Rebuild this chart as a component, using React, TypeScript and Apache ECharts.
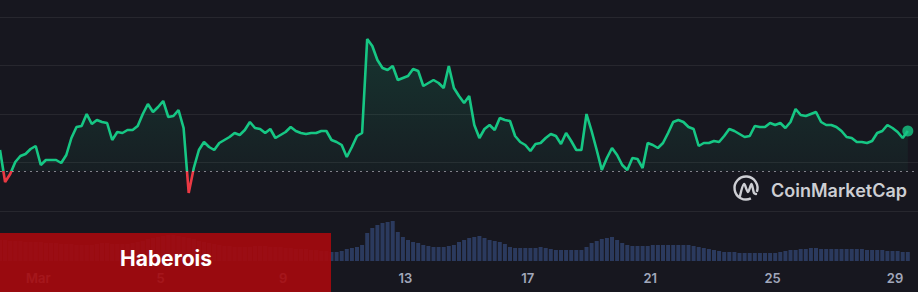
import React, { useEffect, useRef } from "react";
import * as echarts from "echarts";

// Time axis in hours from Mar 1 00:00
const START_HOUR = -30;
const STEP_HOURS = 4;
const AXIS_MIN_HOUR = -30;
const AXIS_MAX_HOUR = 690;
const BASELINE = 40;

const tickHours = [0, 96, 192, 288, 384, 480, 576, 672];
const tickLabels = ["Mar", "5", "9", "13", "17", "21", "25", "29"];

const priceValues = [
  61, 29, 37, 49, 55, 57, 62, 65, 46, 51,
  51, 51, 48, 56, 73, 84, 85, 97, 87, 91,
  89, 88, 71, 79, 78, 81, 81, 85, 97, 107,
  99, 104, 110, 94, 95, 101, 83, 18, 43, 61,
  69, 64, 61, 68, 71, 74, 78, 76, 81, 89,
  83, 82, 78, 82, 73, 76, 79, 84, 80, 78,
  77, 78, 78, 80, 80, 71, 69, 66, 54, 64,
  75, 78, 172, 165, 151, 143, 141, 145, 131, 133,
  135, 142, 140, 125, 128, 131, 128, 123, 145, 123,
  115, 108, 115, 86, 73, 82, 86, 81, 93, 91,
  90, 75, 69, 66, 60, 67, 68, 73, 77, 75,
  67, 78, 70, 61, 61, 97, 80, 61, 41, 53,
  63, 56, 46, 41, 53, 52, 43, 68, 66, 63,
  68, 78, 89, 91, 89, 84, 82, 65, 68, 68,
  70, 69, 75, 82, 80, 77, 74, 75, 85, 84,
  84, 88, 86, 88, 83, 89, 102, 96, 95, 97,
  99, 89, 86, 86, 84, 80, 74, 73, 69, 69,
  68, 70, 78, 80, 86, 83, 79, 73, 80,
];

const volumeValues = [
  21, 21, 20, 20, 20, 19, 19, 19,
  19, 18, 18, 18, 17, 17, 17,
  16, 16, 16, 16, 17, 18,
  18, 17, 17, 17, 17, 18, 19,
  20, 22,
  23, 24, 25, 26, 26, 25, 24, 23, 22, 20,
  19, 18, 17, 16, 15, 15,
  14, 14, 14, 14, 15, 15, 15, 14, 14, 14, 13, 13, 12, 12, 12, 11, 11, 10, 10,
  9, 9, 10, 12, 13, 14, 16, 28, 33, 36,
  38, 39, 40, 29, 24, 21, 19, 18, 16, 15,
  14, 14, 14, 15, 16, 19, 21, 23, 24, 25,
  23, 21, 20, 19, 17, 14, 13, 13, 13, 13,
  13, 14, 13, 12, 11, 11, 11, 11, 11, 11,
  14, 18, 20, 22, 23, 24, 21, 18, 16, 15,
  15, 15, 15, 16, 16, 16, 16, 16, 16, 16,
  16, 15, 14, 13, 12, 11, 10, 9, 9, 9,
  8, 8, 8, 8, 8, 8, 8, 8, 9, 10,
  11, 11, 12, 12, 13, 13, 12, 12, 12, 12,
  12, 12, 12, 12, 12, 11, 11, 11, 11, 10,
  10, 10, 9, 9,
];

const BG = "#17171f";
const GREEN = "#16c784";
const RED = "#ea3943";
const W = 918;
const H = 292;

export default function App() {
  const ref = useRef<HTMLDivElement>(null);

  useEffect(() => {
    if (!ref.current) return;
    const chart = echarts.init(ref.current, undefined, { renderer: "svg" });

    const priceData = priceValues.map((v, i) => [START_HOUR + i * STEP_HOURS, v]);
    const volumeData = volumeValues.map((v, i) => [START_HOUR + i * STEP_HOURS, v]);
    const last = priceData[priceData.length - 1];

    const cx = 746;
    const cy = 188;

    chart.setOption({
      animation: false,
      backgroundColor: BG,
      grid: [
        { left: 0, right: 0, top: 17, bottom: 81 },
        { left: 0, right: 0, top: 211, bottom: 31 },
      ],
      xAxis: [
        { type: "value", gridIndex: 0, min: AXIS_MIN_HOUR, max: AXIS_MAX_HOUR, show: false },
        {
          type: "value",
          gridIndex: 1,
          min: AXIS_MIN_HOUR,
          max: AXIS_MAX_HOUR,
          axisLine: { show: false },
          axisTick: { show: false },
          splitLine: { show: false },
          axisLabel: {
            customValues: tickHours,
            formatter: (val: number) => {
              const k = tickHours.indexOf(Math.round(val));
              return k >= 0 ? tickLabels[k] : "";
            },
            color: "#a1a7bb",
            fontSize: 13,
            fontWeight: 600,
            fontFamily: "Inter",
            margin: 10,
          },
        },
      ],
      yAxis: [
        {
          type: "value",
          gridIndex: 0,
          min: 0,
          max: 194,
          interval: 48.5,
          axisLabel: { show: false },
          axisLine: { show: false },
          axisTick: { show: false },
          splitLine: { show: true, lineStyle: { color: "rgba(255,255,255,0.07)", width: 1 } },
        },
        { type: "value", gridIndex: 1, min: 0, max: 50, show: false, splitLine: { show: false } },
      ],
      series: [
        {
          id: "price",
          type: "line",
          xAxisIndex: 0,
          yAxisIndex: 0,
          data: priceData,
          showSymbol: false,
          symbol: "none",
          lineStyle: { width: 2.6, color: GREEN },
          areaStyle: {
            origin: BASELINE,
            color: new echarts.graphic.LinearGradient(0, 0, 0, 1, [
              { offset: 0, color: "rgba(22,199,132,0.24)" },
              { offset: 1, color: "rgba(22,199,132,0.03)" },
            ]),
          },
          markLine: {
            silent: true,
            symbol: "none",
            label: { show: false },
            lineStyle: { type: [2, 4], color: "rgba(200,200,210,0.6)", width: 1 },
            data: [{ yAxis: BASELINE }],
          },
          z: 3,
        },
        {
          type: "scatter",
          xAxisIndex: 0,
          yAxisIndex: 0,
          data: [last],
          symbolSize: 11,
          itemStyle: { color: GREEN },
          z: 4,
        },
        {
          type: "bar",
          xAxisIndex: 1,
          yAxisIndex: 1,
          data: volumeData,
          barWidth: 4,
          itemStyle: { color: "#2b3a5e" },
        },
      ],
      graphic: [
        {
          type: "arc",
          z: 50,
          shape: { cx, cy, r: 11.5, startAngle: (65 * Math.PI) / 180, endAngle: (380 * Math.PI) / 180, clockwise: true },
          style: { stroke: "#cdced3", lineWidth: 2.4, fill: "none" },
        },
        {
          type: "polyline",
          z: 50,
          shape: {
            points: [
              [cx - 6, cy + 8],
              [cx - 2, cy - 4],
              [cx + 2, cy + 4],
              [cx + 5.5, cy - 4],
              [cx + 8, cy + 5],
              [cx + 10, cy + 6],
            ],
            smooth: 0.3,
          },
          style: { stroke: "#cdced3", lineWidth: 2.4, fill: "none", lineCap: "round", lineJoin: "round" },
        },
        {
          type: "text",
          z: 50,
          x: 771,
          y: 190,
          style: {
            text: "CoinMarketCap",
            fill: "#cdced3",
            font: "600 18px Inter",
            align: "left",
            verticalAlign: "middle",
          },
        },
        {
          type: "rect",
          z: 100,
          shape: { x: 0, y: 233, width: 331, height: 60 },
          style: { fill: "rgba(165,10,14,0.92)" },
        },
        {
          type: "text",
          z: 101,
          x: 166,
          y: 258,
          style: {
            text: "Haberois",
            fill: "#ffffff",
            font: "700 21px Inter",
            align: "center",
            verticalAlign: "middle",
          },
        },
      ],
    });

    // Colour the price line red below the baseline, green above it
    const baseY = chart.convertToPixel({ yAxisIndex: 0 }, BASELINE) as number;
    if (typeof baseY === "number" && isFinite(baseY)) {
      const off = Math.min(1, Math.max(0, baseY / H));
      chart.setOption({
        series: [
          {
            id: "price",
            lineStyle: {
              color: new echarts.graphic.LinearGradient(
                0, 0, 0, H,
                [
                  { offset: 0, color: GREEN },
                  { offset: off, color: GREEN },
                  { offset: off, color: RED },
                  { offset: 1, color: RED },
                ],
                true
              ),
            },
          },
        ],
      });
    }

    return () => chart.dispose();
  }, []);

  return (
    <div
      ref={ref}
      style={{ position: "fixed", left: 0, top: 0, width: W, height: H }}
    />
  );
}
